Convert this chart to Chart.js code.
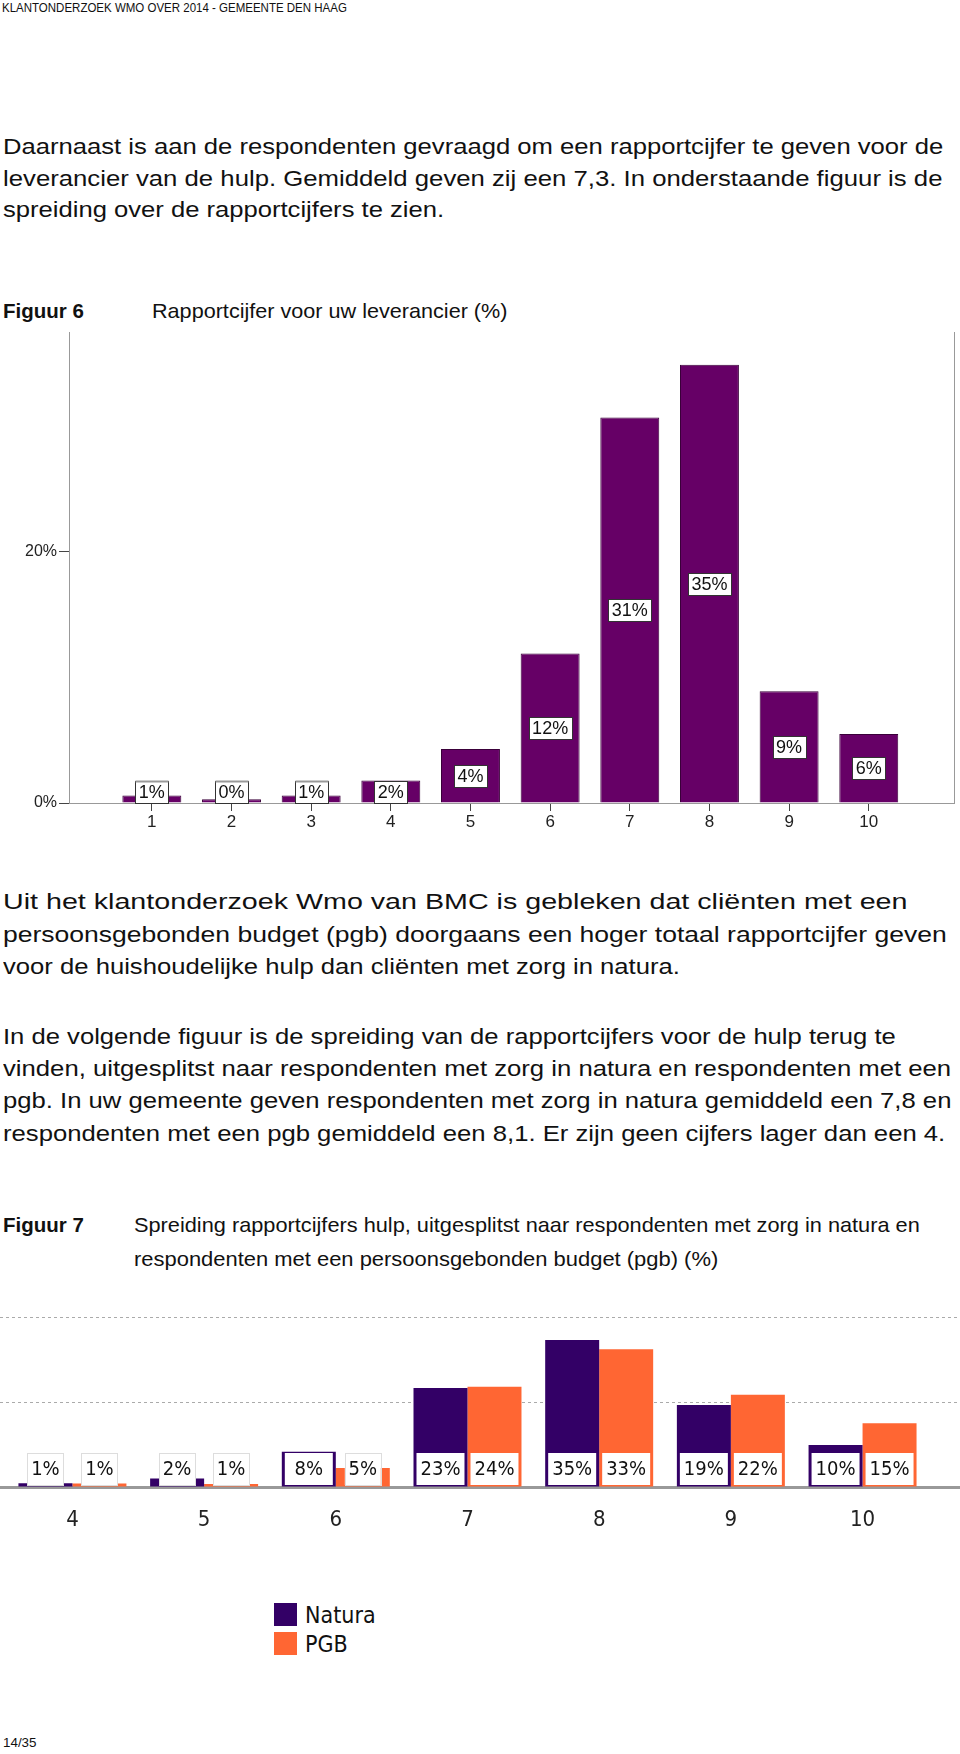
<!DOCTYPE html>
<html>
<head>
<meta charset="utf-8">
<script src="https://cdn.jsdelivr.net/npm/chart.js@4.4.0/dist/chart.umd.min.js"></script>
<style>
html, body { margin: 0; padding: 0; background: #fff; }
body { width: 960px; height: 1754px; position: relative; overflow: hidden;
       font-family: 'Liberation Sans', Arial, sans-serif; color: #111; }
.t { position: absolute; white-space: nowrap; transform-origin: 0 50%; }
.body { font-size: 22px; line-height: 30px; height: 30px; }
.cap { font-family: 'Liberation Sans Narrow', 'Liberation Sans', sans-serif; font-size: 21px; line-height: 26px; height: 26px; }
.fig { font-weight: bold; }
.small { font-size: 13px; line-height: 16px; height: 16px; }
canvas { position: absolute; left: 0; }
#legend { position: absolute; left: 274px; top: 1603px; font-family: 'DejaVu Sans Condensed', 'DejaVu Sans', sans-serif; font-size: 23px; color: #111; }
#legend div { height: 29px; line-height: 24px; white-space: nowrap; }
#legend span { display: inline-block; width: 23px; height: 23px; vertical-align: top; margin-right: 8px; }
</style>
</head>
<body>

<div class="t small" style="left:2px;top:0px" data-w="345">KLANTONDERZOEK WMO OVER 2014 - GEMEENTE DEN HAAG</div>

<div class="t body" style="left:3px;top:132px" data-w="940">Daarnaast is aan de respondenten gevraagd om een rapportcijfer te geven voor de</div>
<div class="t body" style="left:3px;top:164px" data-w="940">leverancier van de hulp. Gemiddeld geven zij een 7,3. In onderstaande figuur is de</div>
<div class="t body" style="left:3px;top:195px" data-w="441">spreiding over de rapportcijfers te zien.</div>

<div class="t cap fig" style="left:3px;top:298px" data-w="81">Figuur 6</div>
<div class="t cap" style="left:152px;top:298px" data-w="355">Rapportcijfer voor uw leverancier (%)</div>

<canvas id="c1" width="960" height="520" style="top:320px"></canvas>

<div class="t body" style="left:3px;top:887px" data-w="905">Uit het klantonderzoek Wmo van BMC is gebleken dat cliënten met een</div>
<div class="t body" style="left:3px;top:920px" data-w="944">persoonsgebonden budget (pgb) doorgaans een hoger totaal rapportcijfer geven</div>
<div class="t body" style="left:3px;top:952px" data-w="677">voor de huishoudelijke hulp dan cliënten met zorg in natura.</div>

<div class="t body" style="left:3px;top:1022px" data-w="893">In de volgende figuur is de spreiding van de rapportcijfers voor de hulp terug te</div>
<div class="t body" style="left:3px;top:1054px" data-w="948">vinden, uitgesplitst naar respondenten met zorg in natura en respondenten met een</div>
<div class="t body" style="left:3px;top:1086px" data-w="948">pgb. In uw gemeente geven respondenten met zorg in natura gemiddeld een 7,8 en</div>
<div class="t body" style="left:3px;top:1119px" data-w="942">respondenten met een pgb gemiddeld een 8,1. Er zijn geen cijfers lager dan een 4.</div>

<div class="t cap fig" style="left:3px;top:1212px" data-w="81">Figuur 7</div>
<div class="t cap" style="left:134px;top:1212px" data-w="786">Spreiding rapportcijfers hulp, uitgesplitst naar respondenten met zorg in natura en</div>
<div class="t cap" style="left:134px;top:1246px" data-w="584">respondenten met een persoonsgebonden budget (pgb) (%)</div>

<canvas id="c2" width="960" height="260" style="top:1300px"></canvas>

<div id="legend"></div>

<div class="t small" style="left:3px;top:1735px" data-w="34">14/35</div>

<script>
// Figuur 6: rapportcijfer voor uw leverancier
const cijfers1 = [1, 2, 3, 4, 5, 6, 7, 8, 9, 10];
const pct1 = [0.6, 0.3, 0.6, 1.8, 4.3, 11.9, 30.7, 34.9, 8.9, 5.5];
const lbl1 = ['1%', '0%', '1%', '2%', '4%', '12%', '31%', '35%', '9%', '6%'];
const yTicks1 = [0, 20];

// Figuur 7: natura vs pgb
const cijfers2 = [4, 5, 6, 7, 8, 9, 10];
const natura = [0.9, 2.0, 8.3, 23.3, 34.6, 19.3, 9.9];
const pgb = [0.8, 0.7, 4.5, 23.6, 32.4, 21.7, 15.0];
const naturaLbl = ['1%', '2%', '8%', '23%', '35%', '19%', '10%'];
const pgbLbl = ['1%', '1%', '5%', '24%', '33%', '22%', '15%'];
const seriesNames = ['Natura', 'PGB'];
const seriesColors = ['#330066', '#ff6633'];

// stretch text lines to the measured widths
document.querySelectorAll('[data-w]').forEach(el => {
  const w = +el.dataset.w;
  el.style.transform = 'scaleX(' + (w / el.scrollWidth) + ')';
});

const narrow = '"Liberation Sans Narrow", "Liberation Sans", sans-serif';
const cond = '"DejaVu Sans Condensed", "DejaVu Sans", sans-serif';

const labels1 = {
  id: 'labels1',
  afterDatasetsDraw(chart) {
    const ctx = chart.ctx;
    const base = chart.scales.y.getPixelForValue(0);
    ctx.save();
    ctx.font = '18px ' + narrow;
    ctx.textAlign = 'center';
    ctx.textBaseline = 'middle';
    chart.getDatasetMeta(0).data.forEach((bar, i) => {
      const txt = lbl1[i];
      const w = Math.round(ctx.measureText(txt).width + 7), h = 22;
      const cy = Math.min((bar.y + base) / 2, base - 11);
      const x0 = Math.round(bar.x - w / 2) + 0.5, y0 = Math.round(cy - h / 2) + 0.5;
      ctx.fillStyle = '#fff';
      ctx.fillRect(x0, y0, w, h);
      ctx.strokeStyle = '#333';
      ctx.lineWidth = 1;
      ctx.strokeRect(x0, y0, w, h);
      if (y0 < bar.y) {
        ctx.strokeStyle = '#999';
        ctx.lineWidth = 2;
        ctx.beginPath(); ctx.moveTo(x0, y0); ctx.lineTo(x0 + w, y0); ctx.stroke();
      }
      ctx.fillStyle = '#111';
      ctx.fillText(txt, bar.x, cy + 1);
    });
    ctx.restore();
  }
};

const rightLine = {
  id: 'rightLine',
  afterDraw(chart) {
    const a = chart.chartArea, ctx = chart.ctx;
    ctx.save();
    ctx.strokeStyle = '#999';
    ctx.lineWidth = 1;
    ctx.beginPath();
    ctx.moveTo(Math.round(a.right) + 0.5, a.top);
    ctx.lineTo(Math.round(a.right) + 0.5, a.bottom);
    ctx.stroke();
    ctx.restore();
  }
};

new Chart(document.getElementById('c1'), {
  type: 'bar',
  data: {
    datasets: [{
      label: 'Rapportcijfer',
      data: cijfers1.map((c, i) => ({ x: c, y: pct1[i] })),
      backgroundColor: '#660066',
      borderColor: '#3a003a',
      borderWidth: 1,
      categoryPercentage: 1,
      barPercentage: 0.74
    }]
  },
  options: {
    responsive: false,
    animation: false,
    devicePixelRatio: 1,
    layout: { padding: { top: 12, right: 6, left: 0, bottom: 0 } },
    plugins: { legend: { display: false }, tooltip: { enabled: false } },
    scales: {
      x: {
        type: 'linear', min: -0.04, max: 11.07, offset: false,
        afterBuildTicks: s => { s.ticks = cijfers1.map(v => ({ value: v })); },
        afterFit: s => { s.height = 37; },
        grid: { offset: false, drawOnChartArea: false, tickLength: 8, color: '#444' },
        border: { color: '#999' },
        ticks: { font: { family: narrow, size: 17 }, color: '#222', padding: 1, autoSkip: false, maxRotation: 0, callback: v => String(v) }
      },
      y: {
        min: 0, max: 37.5,
        afterBuildTicks: s => { s.ticks = yTicks1.map(v => ({ value: v })); },
        afterFit: s => { s.width = 69; },
        grid: { drawOnChartArea: false, tickLength: 10, color: '#444' },
        border: { color: '#999' },
        ticks: { font: { family: narrow, size: 16 }, color: '#222', padding: 2, callback: v => v + '%' }
      }
    }
  },
  plugins: [labels1, rightLine]
});

const labels2 = {
  id: 'labels2',
  afterDatasetsDraw(chart) {
    const ctx = chart.ctx;
    const base = chart.scales.y.getPixelForValue(0);
    ctx.save();
    ctx.font = '20px ' + cond;
    ctx.textAlign = 'center';
    ctx.textBaseline = 'middle';
    [naturaLbl, pgbLbl].forEach((lbls, d) => {
      chart.getDatasetMeta(d).data.forEach((bar, i) => {
        const h = 32, top = base - 2 - h;
        const tall = bar.y <= top;
        const w = tall ? bar.width - 6 : 36;
        const x0 = tall ? bar.x - bar.width / 2 + 3 : bar.x - w / 2;
        ctx.fillStyle = '#fff';
        ctx.fillRect(x0, top, w, h);
        if (!tall) {
          ctx.strokeStyle = '#ddd';
          ctx.lineWidth = 1;
          ctx.strokeRect(Math.round(x0) + 0.5, Math.round(top) + 0.5, Math.round(w), h);
        }
        ctx.fillStyle = '#111';
        ctx.fillText(lbls[i], bar.x, top + h / 2 + 1);
      });
    });
    ctx.restore();
  }
};

const chart2 = new Chart(document.getElementById('c2'), {
  type: 'bar',
  data: {
    datasets: [natura, pgb].map((vals, d) => ({
      label: seriesNames[d],
      data: cijfers2.map((c, i) => ({ x: c, y: vals[i] })),
      backgroundColor: seriesColors[d],
      categoryPercentage: 0.82,
      barPercentage: 1
    }))
  },
  options: {
    responsive: false,
    animation: false,
    devicePixelRatio: 1,
    layout: { padding: { top: 17, right: 0, left: 0, bottom: 0 } },
    plugins: { legend: { display: false }, tooltip: { enabled: false } },
    scales: {
      x: {
        type: 'linear', min: 3.45, max: 10.74, offset: false,
        afterBuildTicks: s => { s.ticks = cijfers2.map(v => ({ value: v })); },
        afterFit: s => { s.height = 73; },
        grid: { display: false, drawTicks: false, offset: false },
        border: { color: '#999', width: 3 },
        ticks: { font: { family: cond, size: 22 }, color: '#222', padding: 20, autoSkip: false, maxRotation: 0, callback: v => String(v) }
      },
      y: {
        min: 0, max: 40,
        afterFit: s => { s.width = 0; },
        ticks: { display: false, stepSize: 20 },
        grid: { drawTicks: false, color: c => (c.tick && c.tick.value === 0) ? 'rgba(0,0,0,0)' : '#aaa' },
        border: { display: false, dash: [3, 3] }
      }
    }
  },
  plugins: [labels2]
});

// legend from the chart's datasets
const legend = document.getElementById('legend');
chart2.data.datasets.forEach(ds => {
  const row = document.createElement('div');
  row.innerHTML = '<span style="background:' + ds.backgroundColor + '"></span>' + ds.label;
  legend.appendChild(row);
});
</script>
</body>
</html>
